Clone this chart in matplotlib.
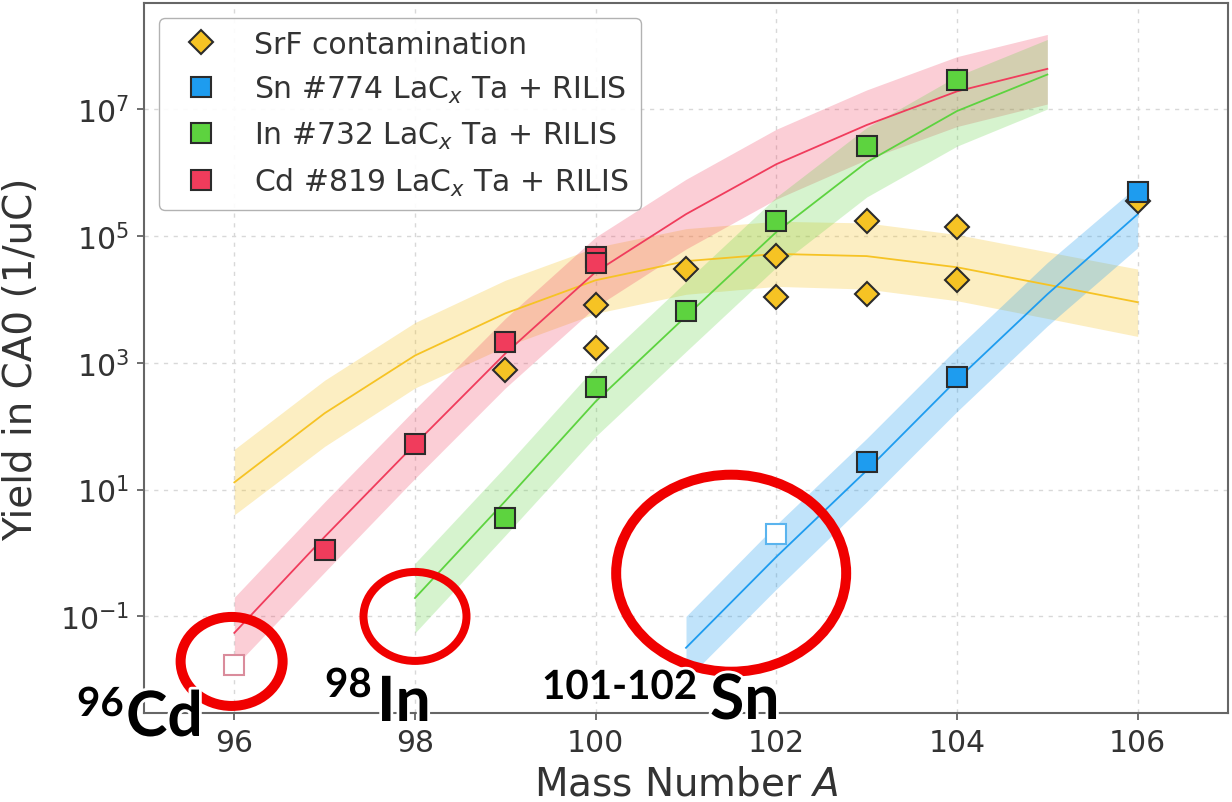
import matplotlib
matplotlib.use("Agg")
import matplotlib.pyplot as plt
import matplotlib.patheffects as pe
from matplotlib.patches import Ellipse
from matplotlib.transforms import ScaledTranslation
from matplotlib.ticker import FixedLocator, LogFormatterSciNotation, NullLocator

# ---- measured yields (1/uC) ----
srf_mass = [99, 100, 100, 101, 102, 102, 103, 103, 104, 104, 106]
srf_yield = [780, 8.0e3, 1.7e3, 3.0e4, 4.8e4, 1.1e4, 1.7e5, 1.2e4, 1.4e5, 2.0e4, 3.5e5]

sn_mass = [103, 104, 106]
sn_yield = [27, 600, 4.9e5]
sn_open_mass = [102]
sn_open_yield = [2.0]

in_mass = [99, 100, 101, 102, 103, 104]
in_yield = [3.5, 410, 6.5e3, 1.7e5, 2.6e6, 2.9e7]

cd_mass = [97, 98, 99, 100, 100]
cd_yield = [1.1, 52, 2.1e3, 4.6e4, 3.7e4]
cd_open_mass = [96]
cd_open_yield = [0.017]

# ---- fitted trends with uncertainty bands ----
srf_fit_mass = [96, 97, 98, 99, 100, 101, 102, 103, 104, 105, 106]
srf_fit = [13, 160, 1.3e3, 6.0e3, 2.0e4, 4.0e4, 5.2e4, 4.8e4, 3.2e4, 1.7e4, 9.0e3]
srf_fit_lo = [4.0, 48, 400, 1.8e3, 6.0e3, 1.2e4, 1.6e4, 1.45e4, 9.5e3, 5.0e3, 2.6e3]
srf_fit_hi = [43, 530, 4.3e3, 2.0e4, 6.6e4, 1.3e5, 1.7e5, 1.6e5, 1.05e5, 5.6e4, 3.0e4]

cd_fit_mass = [96, 97, 98, 99, 100, 101, 102, 103, 104, 105]
cd_fit = [0.055, 1.8, 52, 1.4e3, 2.7e4, 2.2e5, 1.35e6, 5.6e6, 1.9e7, 4.3e7]
cd_fit_lo = [0.016, 0.5, 15, 400, 7.6e3, 6.2e4, 3.8e5, 1.6e6, 5.3e6, 1.2e7]
cd_fit_hi = [0.2, 6.4, 185, 5.0e3, 9.6e4, 7.8e5, 4.8e6, 2.0e7, 6.7e7, 1.5e8]

in_fit_mass = [98, 99, 100, 101, 102, 103, 104, 105]
in_fit = [0.195, 6.6, 245, 5.4e3, 1.15e5, 1.45e6, 9.3e6, 3.5e7]
in_fit_lo = [0.055, 1.9, 69, 1.5e3, 3.2e4, 4.1e5, 2.6e6, 1.0e7]
in_fit_hi = [0.69, 23, 870, 1.9e4, 4.1e5, 5.1e6, 3.3e7, 1.25e8]

sn_fit_mass = [101, 102, 103, 104, 105, 106]
sn_fit = [0.032, 0.87, 20, 540, 1.2e4, 2.2e5]
sn_fit_lo = [0.010, 0.27, 6.4, 170, 3.8e3, 6.5e4]
sn_fit_hi = [0.10, 2.8, 64, 1.7e3, 3.8e4, 6.2e5]

xtick_values = [96, 98, 100, 102, 104, 106]
ytick_values = [1e-1, 1e1, 1e3, 1e5, 1e7]

c_srf = "#F6C324"
c_sn = "#1E9CEF"
c_in = "#5DD33F"
c_cd = "#F03C5C"
edge = "#2b2b2b"

fig = plt.figure(figsize=(12.32, 8.03), dpi=100)
W, H = 1232, 803
ax = fig.add_axes([144 / W, (H - 714) / H, 1084 / W, 710 / H])
ax.set_yscale("log")

# bands + fit lines
for m, f, lo, hi, c, a in [
    (srf_fit_mass, srf_fit, srf_fit_lo, srf_fit_hi, c_srf, 0.28),
    (cd_fit_mass, cd_fit, cd_fit_lo, cd_fit_hi, c_cd, 0.25),
    (in_fit_mass, in_fit, in_fit_lo, in_fit_hi, c_in, 0.25),
    (sn_fit_mass, sn_fit, sn_fit_lo, sn_fit_hi, c_sn, 0.28),
]:
    ax.fill_between(m, lo, hi, color=c, alpha=a, lw=0, zorder=1)
    ax.plot(m, f, color=c, lw=1.3, zorder=2)

# data points
ax.plot(srf_mass, srf_yield, ls="none", marker="D", ms=12, mfc=c_srf, mec=edge,
        mew=1.5, zorder=3, label="SrF contamination")
ax.plot(sn_mass, sn_yield, ls="none", marker="s", ms=15, mfc=c_sn, mec=edge,
        mew=1.5, zorder=4, label="Sn #774 LaC$_x$ Ta + RILIS")
ax.plot(in_mass, in_yield, ls="none", marker="s", ms=15, mfc=c_in, mec=edge,
        mew=1.5, zorder=4, label="In #732 LaC$_x$ Ta + RILIS")
ax.plot(cd_mass, cd_yield, ls="none", marker="s", ms=15, mfc=c_cd, mec=edge,
        mew=1.5, zorder=4, label="Cd #819 LaC$_x$ Ta + RILIS")
ax.plot(sn_open_mass, sn_open_yield, ls="none", marker="s", ms=15, mfc="white",
        mec="#5AB4EE", mew=1.5, zorder=4)
ax.plot(cd_open_mass, cd_open_yield, ls="none", marker="s", ms=15, mfc="white",
        mec="#DA8C9C", mew=1.5, zorder=4)

ax.set_xlim(95, 107)
ax.set_ylim(3e-3, 4.7e8)
ax.xaxis.set_major_locator(FixedLocator(xtick_values))
ax.yaxis.set_major_locator(FixedLocator(ytick_values))
ax.yaxis.set_major_formatter(LogFormatterSciNotation())
ax.yaxis.set_minor_locator(NullLocator())
ax.xaxis.set_minor_locator(NullLocator())

ax.set_axisbelow(True)
ax.grid(True, ls=(0, (3, 4)), color="#d8d8d8", lw=1)
for s in ax.spines.values():
    s.set_color("#666666")
    s.set_linewidth(1.5)
ax.tick_params(direction="out", length=5, width=1.2, color="#555555",
               labelsize=21.5, labelcolor="#333333", pad=6)

ax.set_xlabel("Mass Number $A$", fontsize=28, color="#333333", labelpad=5)
ax.set_ylabel("Yield in CA0 (1/uC)", fontsize=28, color="#333333", labelpad=14)

leg = ax.legend(loc="upper left", fontsize=21.5, framealpha=0.9,
                edgecolor="#aaaaaa", fancybox=True)
for t in leg.get_texts():
    t.set_color("#333333")

# red highlight circles (centre in data coords, size in pixels)
circles = [(95.97, 0.0195, 102, 89, 10), (98.0, 0.1, 103, 89, 8),
           (101.5, 0.48, 230, 197, 10)]
for cx, cy, w, h, lw in circles:
    e = Ellipse((0, 0), w / 100, h / 100, fill=False, ec="#F00000", lw=lw * 0.72,
                transform=fig.dpi_scale_trans + ScaledTranslation(cx, cy, ax.transData),
                zorder=5, clip_on=False)
    fig.add_artist(e)

# isotope labels
stroke = [pe.withStroke(linewidth=4, foreground="white")]
labels = [("96", 77, 717, 29), ("Cd", 126, 737, 45),
          ("98", 325, 698, 29), ("In", 377, 722, 45),
          ("101-102", 542, 700, 29), ("Sn", 710, 720, 45)]
for s, px, py, fs in labels:
    fig.text(px / W, 1 - py / H, s, fontsize=fs, fontweight="bold", family="Lato",
             color="black", ha="left", va="baseline", zorder=6, path_effects=stroke)

fig.savefig("out.png", dpi=100)
